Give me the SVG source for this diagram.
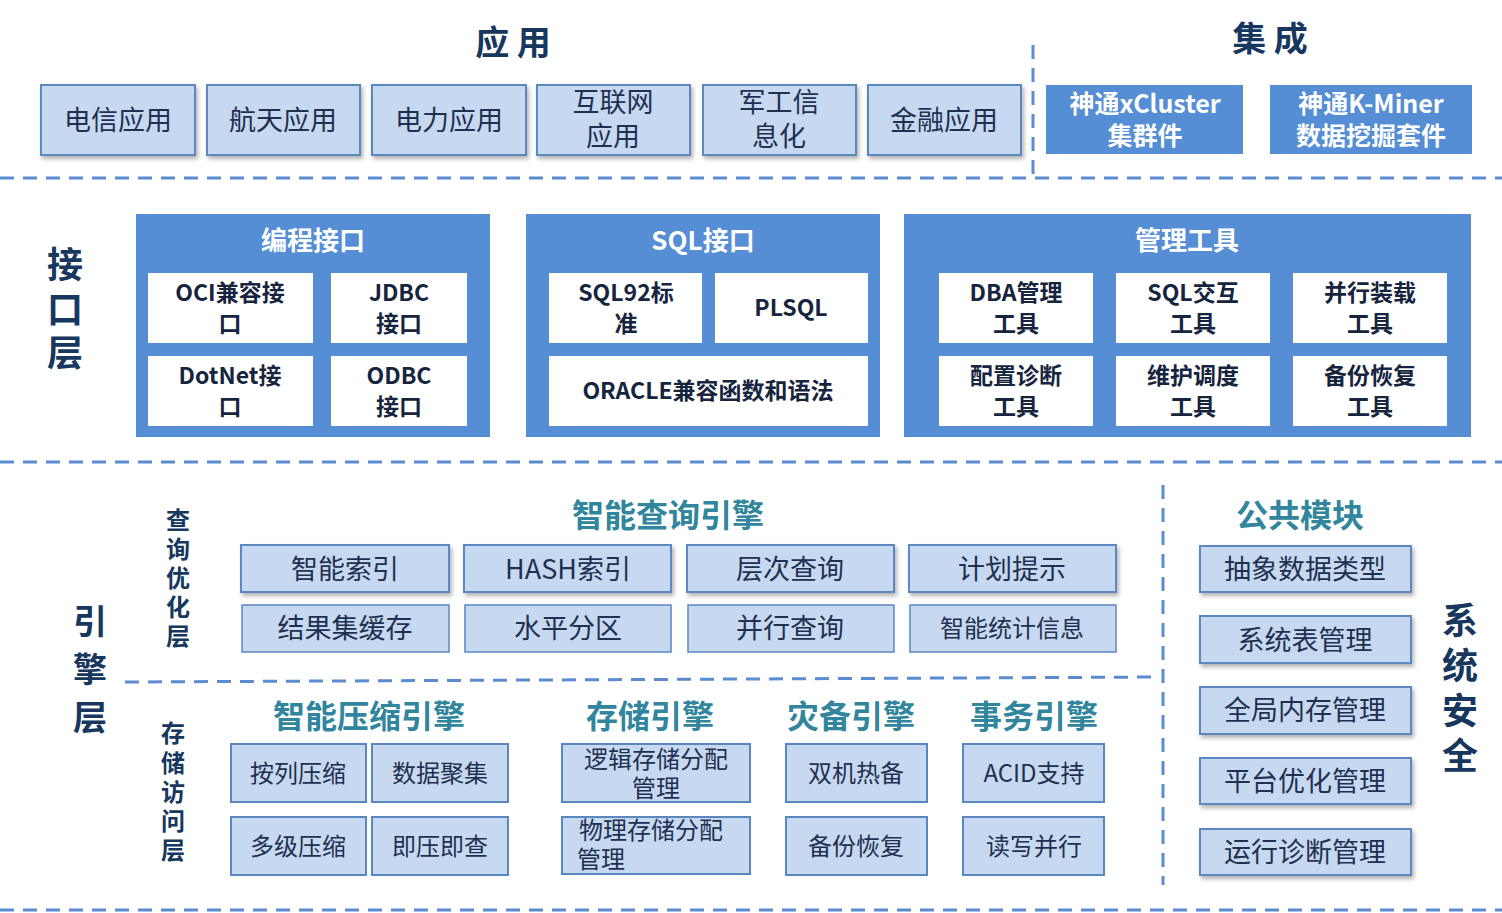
<svg xmlns="http://www.w3.org/2000/svg" width="1502" height="913" viewBox="0 0 1502 913">
<defs>
<filter id="sh" x="-10%" y="-10%" width="130%" height="140%"><feDropShadow dx="2" dy="3" stdDeviation="2" flood-color="#000" flood-opacity="0.3"/></filter>
</defs>
<style>
text{font-family:"Noto Sans CJK SC","Noto Sans",sans-serif;text-anchor:middle;dominant-baseline:central}
.lb{fill:#c6d9f1;stroke:#5b87c0;stroke-width:2}
.lt{fill:#1f3050;font-size:27px}
.st{fill:#1f3050;font-size:24px}
.pn{fill:#558ed5}
.wb{fill:#fff}
.wt{fill:#fff;font-weight:bold;font-size:26px}
.it{fill:#17243d;font-weight:bold;font-size:23px}
.ti{fill:#17375e;font-weight:bold;font-size:34px}
.tc{fill:#31859c;font-weight:bold;font-size:32px}
.vl{fill:#17375e;font-weight:bold}
.dl{stroke:#5b8bd0;stroke-width:3;stroke-dasharray:14 9;fill:none}
</style>
<rect width="1502" height="913" fill="#fff"/>
<g id="dividers">
<line class="dl" x1="0" y1="178" x2="1502" y2="178"/>
<line class="dl" x1="0" y1="462" x2="1502" y2="462"/>
<line class="dl" x1="0" y1="910" x2="1502" y2="910"/>
<line class="dl" x1="1033" y1="45" x2="1033" y2="175"/>
<line class="dl" x1="125" y1="682" x2="1160" y2="677"/>
<line class="dl" x1="1163" y1="485" x2="1163" y2="885"/>
</g>
<g id="app">
<text class="ti" x="513" y="40">应 用</text>
<g filter="url(#sh)">
<rect class="lb" x="41" y="85" width="154" height="70"/>
<rect class="lb" x="207" y="85" width="153" height="70"/>
<rect class="lb" x="372" y="85" width="154" height="70"/>
<rect class="lb" x="537" y="85" width="153" height="70"/>
<rect class="lb" x="703" y="85" width="153" height="70"/>
<rect class="lb" x="868" y="85" width="153" height="70"/>
</g>
<text class="lt" x="118" y="118">电信应用</text>
<text class="lt" x="283" y="118">航天应用</text>
<text class="lt" x="449" y="118">电力应用</text>
<text class="lt" x="613" y="100">互联网</text><text class="lt" x="613" y="134">应用</text>
<text class="lt" x="779" y="100">军工信</text><text class="lt" x="779" y="134">息化</text>
<text class="lt" x="944" y="118">金融应用</text>
</g>
<g id="integration">
<text class="ti" x="1270" y="36">集 成</text>
<rect class="pn" x="1046" y="85" width="197" height="69"/>
<rect class="pn" x="1270" y="85" width="202" height="69"/>
<text class="wt" x="1145" y="102" style="font-size:25px">神通xCluster</text>
<text class="wt" x="1145" y="134" style="font-size:25px">集群件</text>
<text class="wt" x="1371" y="102" style="font-size:25px">神通K-Miner</text>
<text class="wt" x="1371" y="134" style="font-size:25px">数据挖掘套件</text>
</g>
<g id="interface">
<text class="vl" x="65" y="262" font-size="36">接</text>
<text class="vl" x="65" y="307" font-size="36">口</text>
<text class="vl" x="65" y="350" font-size="36">层</text>
<rect class="pn" x="136" y="214" width="354" height="223"/>
<text class="wt" x="313" y="238">编程接口</text>
<rect class="wb" x="148" y="273" width="165" height="70"/>
<rect class="wb" x="331" y="273" width="136" height="70"/>
<rect class="wb" x="148" y="356" width="165" height="70"/>
<rect class="wb" x="331" y="356" width="136" height="70"/>
<text class="it" x="230" y="291">OCI兼容接</text><text class="it" x="230" y="322">口</text>
<text class="it" x="399" y="291">JDBC</text><text class="it" x="399" y="322">接口</text>
<text class="it" x="230" y="374">DotNet接</text><text class="it" x="230" y="405">口</text>
<text class="it" x="399" y="374">ODBC</text><text class="it" x="399" y="405">接口</text>
<rect class="pn" x="526" y="214" width="354" height="223"/>
<text class="wt" x="703" y="238">SQL接口</text>
<rect class="wb" x="549" y="273" width="153" height="70"/>
<rect class="wb" x="715" y="273" width="153" height="70"/>
<rect class="wb" x="549" y="356" width="319" height="70"/>
<text class="it" x="626" y="291">SQL92标</text><text class="it" x="626" y="322">准</text>
<text class="it" x="791" y="306">PLSQL</text>
<text class="it" x="708" y="389">ORACLE兼容函数和语法</text>
<rect class="pn" x="904" y="214" width="567" height="223"/>
<text class="wt" x="1187" y="238">管理工具</text>
<rect class="wb" x="939" y="273" width="154" height="70"/>
<rect class="wb" x="1116" y="273" width="154" height="70"/>
<rect class="wb" x="1293" y="273" width="154" height="70"/>
<rect class="wb" x="939" y="356" width="154" height="70"/>
<rect class="wb" x="1116" y="356" width="154" height="70"/>
<rect class="wb" x="1293" y="356" width="154" height="70"/>
<text class="it" x="1016" y="291">DBA管理</text><text class="it" x="1016" y="322">工具</text>
<text class="it" x="1193" y="291">SQL交互</text><text class="it" x="1193" y="322">工具</text>
<text class="it" x="1370" y="291">并行装载</text><text class="it" x="1370" y="322">工具</text>
<text class="it" x="1016" y="374">配置诊断</text><text class="it" x="1016" y="405">工具</text>
<text class="it" x="1193" y="374">维护调度</text><text class="it" x="1193" y="405">工具</text>
<text class="it" x="1370" y="374">备份恢复</text><text class="it" x="1370" y="405">工具</text>
</g>
<g id="engine">
<text class="vl" x="90" y="619" font-size="34">引</text>
<text class="vl" x="90" y="667" font-size="34">擎</text>
<text class="vl" x="90" y="715" font-size="34">层</text>
<g class="vl" font-size="24">
<text x="178" y="518">查</text><text x="178" y="547">询</text><text x="178" y="576">优</text><text x="178" y="605">化</text><text x="178" y="634">层</text>
<text x="173" y="731">存</text><text x="173" y="761">储</text><text x="173" y="790">访</text><text x="173" y="819">问</text><text x="173" y="848">层</text>
</g>
<text class="tc" x="668" y="513">智能查询引擎</text>
<g filter="url(#sh)">
<rect class="lb" x="241" y="545" width="208" height="47"/>
<rect class="lb" x="464" y="545" width="207" height="47"/>
<rect class="lb" x="687" y="545" width="207" height="47"/>
<rect class="lb" x="909" y="545" width="207" height="47"/>
</g>
<rect class="lb" x="242" y="605" width="207" height="47" style="stroke-width:1.5"/>
<rect class="lb" x="465" y="605" width="206" height="47" style="stroke-width:1.5"/>
<rect class="lb" x="688" y="605" width="206" height="47" style="stroke-width:1.5"/>
<rect class="lb" x="910" y="605" width="206" height="47" style="stroke-width:1.5"/>
<text class="lt" x="345" y="567">智能索引</text>
<text class="lt" x="568" y="567">HASH索引</text>
<text class="lt" x="790" y="567">层次查询</text>
<text class="lt" x="1012" y="567">计划提示</text>
<text class="lt" x="345" y="626">结果集缓存</text>
<text class="lt" x="568" y="626">水平分区</text>
<text class="lt" x="790" y="626">并行查询</text>
<text class="lt" x="1012" y="626" style="font-size:24px">智能统计信息</text>
<text class="tc" x="369" y="714">智能压缩引擎</text>
<text class="tc" x="650" y="714">存储引擎</text>
<text class="tc" x="851" y="714">灾备引擎</text>
<text class="tc" x="1034" y="714">事务引擎</text>
<g style="stroke-width:1.5">
<rect class="lb" x="231" y="744" width="135" height="58"/>
<rect class="lb" x="372" y="744" width="136" height="58"/>
<rect class="lb" x="231" y="817" width="135" height="58"/>
<rect class="lb" x="372" y="817" width="136" height="58"/>
<rect class="lb" x="562" y="744" width="188" height="58"/>
<rect class="lb" x="562" y="817" width="188" height="57"/>
<rect class="lb" x="786" y="744" width="141" height="58"/>
<rect class="lb" x="786" y="817" width="141" height="58"/>
<rect class="lb" x="963" y="744" width="141" height="58"/>
<rect class="lb" x="963" y="817" width="141" height="58"/>
</g>
<text class="st" x="298" y="771">按列压缩</text>
<text class="st" x="440" y="771">数据聚集</text>
<text class="st" x="298" y="844">多级压缩</text>
<text class="st" x="440" y="844">即压即查</text>
<text class="st" x="656" y="757">逻辑存储分配</text><text class="st" x="656" y="786">管理</text>
<text class="st" x="651" y="828">物理存储分配</text><text class="st" x="601" y="857">管理</text>
<text class="st" x="856" y="771">双机热备</text>
<text class="st" x="856" y="844">备份恢复</text>
<text class="st" x="1034" y="771">ACID支持</text>
<text class="st" x="1034" y="844">读写并行</text>
</g>
<g id="common">
<text class="tc" x="1300" y="513">公共模块</text>
<g filter="url(#sh)">
<rect class="lb" x="1200" y="546" width="211" height="46"/>
<rect class="lb" x="1200" y="616" width="211" height="47"/>
<rect class="lb" x="1200" y="687" width="211" height="47"/>
<rect class="lb" x="1200" y="758" width="211" height="46"/>
<rect class="lb" x="1200" y="829" width="211" height="46"/>
</g>
<text class="lt" x="1305" y="567">抽象数据类型</text>
<text class="lt" x="1305" y="638">系统表管理</text>
<text class="lt" x="1305" y="708">全局内存管理</text>
<text class="lt" x="1305" y="779">平台优化管理</text>
<text class="lt" x="1305" y="850">运行诊断管理</text>
</g>
<g id="security">
<text class="vl" x="1460" y="618" font-size="36">系</text>
<text class="vl" x="1460" y="663" font-size="36">统</text>
<text class="vl" x="1460" y="708" font-size="36">安</text>
<text class="vl" x="1460" y="753" font-size="36">全</text>
</g>
</svg>
